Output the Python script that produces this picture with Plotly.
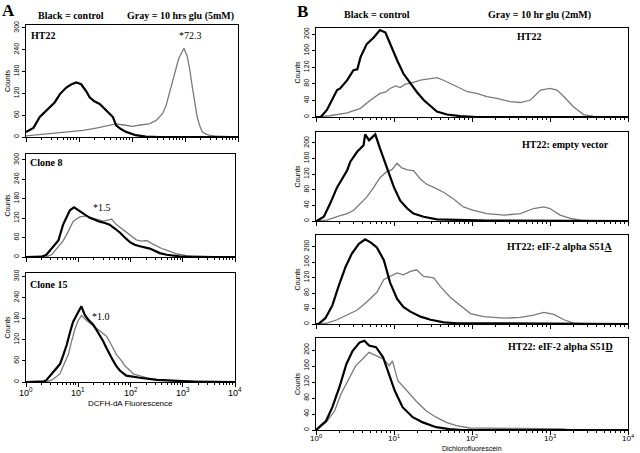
import plotly.graph_objects as go

# fluorescence positions are given as log10 values (0..4), counts read off the plots
# ---- panel A (5mM glu) ----
a1_ctrl_x = [0.0, 0.14, 0.26, 0.36, 0.45, 0.54, 0.64, 0.76, 0.86, 0.95, 1.04, 1.14, 1.2, 1.29, 1.39, 1.48,
             1.575, 1.64, 1.7, 1.79, 1.89, 1.98, 2.07, 2.26, 2.51, 4.0]
a1_ctrl_y = [14, 25, 55, 70, 82, 95, 118, 136, 145, 150, 145, 125, 109, 98, 91, 78,
             64, 55, 32, 22, 14, 9, 5, 1, 0, 0]
a1_glu_x = [0.0, 0.2, 0.45, 0.7, 0.9, 1.075, 1.3, 1.45, 1.575, 1.7, 1.85, 2.01, 2.15, 2.325, 2.45, 2.575,
            2.64, 2.7, 2.76, 2.825, 2.88, 2.92, 2.98, 3.04, 3.09, 3.14, 3.19, 3.23, 3.28, 3.325, 3.4,
            3.45, 3.6, 3.8, 4.0]
a1_glu_y = [3, 6, 9, 12, 15, 18, 24, 28, 32, 36, 33, 29, 33, 36, 45, 64,
            85, 118, 155, 190, 215, 227, 244, 223, 185, 136, 90, 55, 30, 14, 8,
            5, 2, 1, 0]

a2_ctrl_x = [0.0, 0.3, 0.39, 0.52, 0.62, 0.71, 0.78, 0.84, 0.92, 1.0, 1.1, 1.22, 1.32, 1.41, 1.51, 1.6,
             1.7, 1.8, 1.89, 1.99, 2.08, 2.18, 2.37, 2.46, 2.56, 2.69, 2.94, 3.2, 4.0]
a2_ctrl_y = [0, 1, 7, 31, 51, 100, 125, 144, 153, 144, 134, 121, 115, 109, 105, 100,
             88, 75, 60, 46, 38, 33, 26, 20, 12, 7, 2, 0, 0]
a2_glu_x = [0.0, 0.4, 0.49, 0.62, 0.71, 0.78, 0.84, 0.9, 0.97, 1.03, 1.16, 1.29, 1.48, 1.64, 1.73, 1.83,
            1.92, 2.02, 2.11, 2.21, 2.31, 2.4, 2.5, 2.59, 2.69, 2.88, 3.07, 3.32, 3.6, 4.0]
a2_glu_y = [0, 1, 7, 31, 50, 70, 90, 109, 118, 124, 127, 119, 111, 117, 100, 88,
            75, 63, 53, 49, 51, 42, 33, 27, 21, 10, 4, 2, 1, 0]

a3_ctrl_x = [0.0, 0.35, 0.39, 0.52, 0.59, 0.65, 0.71, 0.78, 0.84, 0.9, 1.0, 1.06, 1.1, 1.13, 1.19, 1.29,
             1.35, 1.41, 1.48, 1.54, 1.6, 1.67, 1.73, 1.8, 1.92, 2.05, 2.18, 2.5, 2.82, 3.2, 4.0]
a3_ctrl_y = [0, 2, 5, 28, 40, 51, 75, 106, 140, 171, 199, 215, 200, 189, 178, 162,
             148, 134, 115, 97, 78, 60, 45, 32, 18, 14, 12, 6, 3, 1, 0]
a3_glu_x = [0.0, 0.4, 0.49, 0.59, 0.65, 0.71, 0.81, 0.87, 0.94, 1.0, 1.06, 1.16, 1.22, 1.32, 1.45, 1.54,
            1.6, 1.67, 1.73, 1.83, 1.89, 1.99, 2.05, 2.31, 2.56, 2.88, 3.3, 4.0]
a3_glu_y = [0, 1, 5, 15, 23, 45, 78, 115, 152, 175, 189, 175, 168, 157, 143, 130,
            115, 97, 78, 60, 46, 33, 23, 12, 6, 3, 2, 0]

# ---- panel B (2mM glu) ----
b1_ctrl_x = [0.0, 0.06, 0.14, 0.23, 0.27, 0.31, 0.4, 0.48, 0.53, 0.57, 0.65, 0.74, 0.78, 0.82, 0.89, 0.95,
             1.04, 1.12, 1.21, 1.29, 1.38, 1.47, 1.55, 1.68, 1.85, 2.06, 4.0]
b1_ctrl_y = [0, 0, 17, 49, 65, 69, 89, 113, 115, 144, 176, 192, 200, 210, 204, 176,
             137, 105, 81, 61, 41, 25, 13, 6, 2, 0, 0]
b1_glu_x = [0.0, 0.1, 0.18, 0.4, 0.57, 0.7, 0.82, 0.89, 0.95, 1.02, 1.08, 1.15, 1.21, 1.34, 1.47, 1.55,
            1.62, 1.68, 1.81, 1.94, 2.06, 2.19, 2.32, 2.49, 2.62, 2.75, 2.88, 3.0, 3.09, 3.18, 3.3,
            3.43, 3.6, 4.0]
b1_glu_y = [0, 1, 3, 10, 21, 41, 57, 60, 69, 75, 71, 80, 81, 89, 93, 95,
            90, 85, 73, 61, 57, 49, 45, 37, 35, 41, 65, 69, 65, 49, 25,
            6, 0, 0]

b2_ctrl_x = [0.0, 0.01, 0.1, 0.18, 0.27, 0.35, 0.4, 0.44, 0.53, 0.61, 0.63, 0.68, 0.76, 0.82, 0.91, 1.0,
             1.08, 1.17, 1.25, 1.38, 1.55, 1.81, 2.19, 4.0]
b2_ctrl_y = [0, 0, 11, 44, 86, 111, 130, 152, 178, 194, 222, 207, 222, 186, 136, 86,
             52, 32, 19, 11, 4, 2, 1, 0]
b2_glu_x = [0.0, 0.14, 0.27, 0.4, 0.48, 0.57, 0.65, 0.74, 0.82, 0.91, 0.97, 1.04, 1.1, 1.17, 1.25, 1.34,
            1.42, 1.51, 1.64, 1.76, 1.89, 2.02, 2.19, 2.41, 2.62, 2.79, 2.92, 3.0, 3.13, 3.26, 3.39,
            3.56, 4.0]
b2_glu_y = [0, 2, 11, 19, 27, 44, 61, 86, 111, 127, 131, 148, 136, 131, 129, 107,
            94, 86, 73, 57, 36, 27, 19, 15, 19, 32, 36, 32, 15, 7, 2,
            0, 0]

b3_ctrl_x = [0.0, 0.03, 0.12, 0.21, 0.29, 0.38, 0.46, 0.55, 0.63, 0.7, 0.78, 0.87, 0.95, 1.04, 1.12, 1.21,
             1.34, 1.47, 1.64, 1.81, 4.0]
b3_ctrl_y = [0, 0, 15, 48, 98, 148, 182, 207, 219, 211, 198, 165, 107, 65, 44, 32,
             19, 11, 4, 2, 0]
b3_glu_x = [0.0, 0.14, 0.27, 0.4, 0.53, 0.65, 0.78, 0.87, 0.95, 1.04, 1.12, 1.21, 1.29, 1.38, 1.51, 1.59,
            1.72, 1.85, 1.98, 2.15, 2.41, 2.62, 2.79, 2.92, 3.05, 3.18, 3.3, 3.47, 4.0]
b3_glu_y = [0, 2, 11, 23, 36, 57, 82, 115, 123, 132, 127, 136, 140, 123, 119, 98,
            69, 48, 27, 19, 15, 17, 23, 30, 25, 11, 2, 0, 0]

b4_ctrl_x = [0.0, 0.04, 0.13, 0.21, 0.3, 0.39, 0.47, 0.56, 0.62, 0.68, 0.77, 0.86, 0.92, 1.01, 1.11, 1.24,
             1.37, 1.54, 1.71, 1.88, 4.0]
b4_ctrl_y = [0, 7, 23, 57, 107, 165, 198, 219, 223, 211, 207, 182, 148, 98, 57, 32,
             19, 7, 2, 0, 0]
b4_glu_x = [0.0, 0.04, 0.13, 0.24, 0.32, 0.43, 0.51, 0.6, 0.68, 0.77, 0.86, 0.94, 0.98, 1.05, 1.16, 1.28,
            1.41, 1.54, 1.67, 1.8, 1.97, 2.18, 2.61, 3.17, 3.25, 4.0]
b4_glu_y = [0, 5, 19, 48, 90, 132, 161, 178, 194, 186, 178, 161, 173, 123, 98, 73,
            48, 32, 19, 11, 5, 5, 4, 3, 0, 0]

panels = [
    # (ctrl x, ctrl y, glu x, glu y)
    (a1_ctrl_x, a1_ctrl_y, a1_glu_x, a1_glu_y),
    (a2_ctrl_x, a2_ctrl_y, a2_glu_x, a2_glu_y),
    (a3_ctrl_x, a3_ctrl_y, a3_glu_x, a3_glu_y),
    (b1_ctrl_x, b1_ctrl_y, b1_glu_x, b1_glu_y),
    (b2_ctrl_x, b2_ctrl_y, b2_glu_x, b2_glu_y),
    (b3_ctrl_x, b3_ctrl_y, b3_glu_x, b3_glu_y),
    (b4_ctrl_x, b4_ctrl_y, b4_glu_x, b4_glu_y),
]

A_ticks = [0, 60, 120, 180, 240, 300]
B_ticks = [0, 40, 80, 120, 160, 200]
decade_exp = [0, 1, 2, 3, 4]
decades = [10 ** k for k in decade_exp]
minor_vals = [m * 10 ** k for k in range(4) for m in range(2, 10)]

W, H = 640, 453
def px(x):
    return x / W
def py(y):
    return 1 - y / H

# plot boxes in pixels: left, right, top, bottom, ymax
boxes = [
    (26, 238, 25, 137, 308),
    (26, 235, 154, 257, 318),
    (26, 235, 273, 382, 310),
    (316, 628, 28, 117, 215),
    (316, 628, 132, 221, 228),
    (316, 628, 235, 324, 230),
    (316, 628, 338, 430, 230),
]

GRAY = '#7a7a7a'
sans = 'Liberation Sans'
serif = 'Liberation Serif'

fig = go.Figure()
layout = {}
for i, (cx, cy, gx, gy) in enumerate(panels):
    n = i + 1
    xa = 'x' if n == 1 else 'x%d' % n
    ya = 'y' if n == 1 else 'y%d' % n
    fig.add_trace(go.Scatter(x=[10 ** v for v in gx], y=gy, mode='lines',
                             line=dict(color=GRAY, width=1.3), xaxis=xa, yaxis=ya))
    fig.add_trace(go.Scatter(x=[10 ** v for v in cx], y=cy, mode='lines',
                             line=dict(color='black', width=2.2), xaxis=xa, yaxis=ya))

    l, r, t, b, ymax = boxes[i]
    layout['xaxis' if n == 1 else 'xaxis%d' % n] = dict(
        domain=[px(l), px(r)], anchor=ya, type='log', range=[0, 4], automargin=False,
        showline=True, linecolor='black', linewidth=1, mirror=True,
        showgrid=False, zeroline=False,
        ticks='outside', ticklen=4, tickcolor='black',
        tickvals=decades, showticklabels=False,
        minor=dict(ticks='outside', ticklen=2, tickcolor='black', tickvals=minor_vals, showgrid=False),
    )
    layout['yaxis' if n == 1 else 'yaxis%d' % n] = dict(
        domain=[py(b), py(t)], anchor=xa, range=[0, ymax], automargin=False,
        showline=True, linecolor='black', linewidth=1, mirror=True,
        showgrid=False, zeroline=False,
        ticks='outside', ticklen=3, tickcolor='black',
        tickvals=A_ticks if n <= 3 else B_ticks, tickangle=-90,
        tickfont=dict(family=sans, size=7, color='black'),
        title=dict(text='Counts', font=dict(family=sans, size=7, color='black'), standoff=1),
    )

fig.update_layout(**layout)

def note(text, x, y, size=11, bold=True, anchor='center', family=serif):
    fig.add_annotation(text='<b>%s</b>' % text if bold else text,
                       x=px(x), y=py(y), xref='paper', yref='paper',
                       xanchor=anchor, yanchor='middle', showarrow=False,
                       font=dict(family=family, size=size, color='black'))

# decade labels under the bottom plots (annotation x on a log axis is log10)
for xref, ylab, fsize in (('x3', 392, 9), ('x7', 438, 8)):
    for k in decade_exp:
        fig.add_annotation(text='10<sup>%d</sup>' % k, x=k, y=py(ylab), xref=xref, yref='paper',
                           xanchor='center', yanchor='middle', showarrow=False,
                           font=dict(family=sans, size=fsize, color='black'))

note('A', 8, 10, size=17)
note('B', 302, 11, size=17)
note('Black = control', 71, 16, size=10)
note('Gray = 10 hrs glu (5mM)', 180, 16, size=10)
note('Black = control', 377, 15, size=10)
note('Gray = 10 hr glu (2mM)', 539, 15, size=10)

note('HT22', 29, 36, size=10, anchor='left')
note('*72.3', 190, 36, size=10, bold=False)
note('Clone 8', 28, 162, size=10, anchor='left')
note('*1.5', 102, 207, size=10, bold=False)
note('Clone 15', 28, 284, size=10, anchor='left')
note('*1.0', 101, 316, size=10, bold=False)

note('HT22', 529, 37, size=10)
note('HT22: empty vector', 611, 144, size=10, anchor='right')
note('HT22: eIF-2 alpha S51<u>A</u>', 615, 246, size=10, anchor='right')
note('HT22: eIF-2 alpha S51<u>D</u>', 615, 346, size=10, anchor='right')

# x-axis titles
note('DCFH-dA Fluorescence', 130, 403, size=8, bold=False, family=sans)
note('Dichlorofluorescein', 472, 448, size=7, bold=False, family=sans)

fig.update_layout(width=W, height=H, margin=dict(l=0, r=0, t=0, b=0),
                  paper_bgcolor='white', plot_bgcolor='white', showlegend=False)

# drop the default page margin so the figure sits at the window's corner
fig.write_html('out.html', config={'displayModeBar': False},
               post_script="document.body.style.margin='0px';")
